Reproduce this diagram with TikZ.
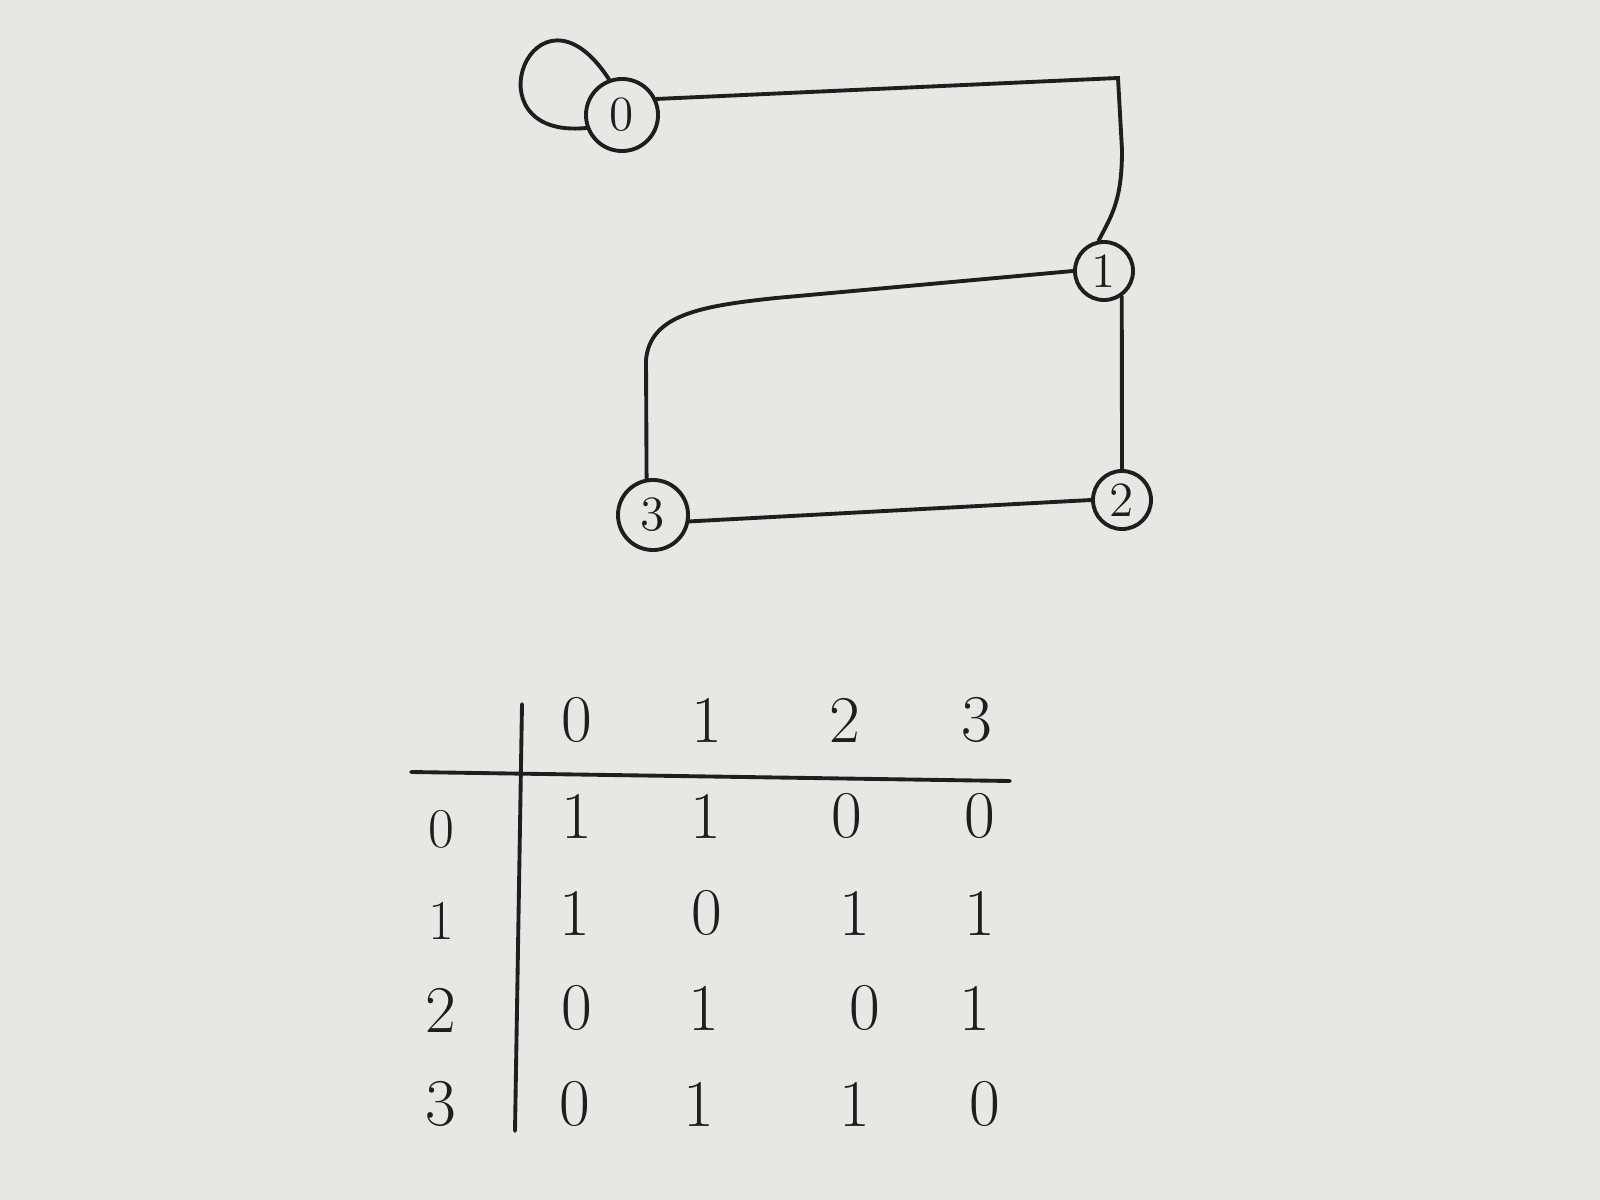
\documentclass[tikz,border=0pt]{standalone}
\definecolor{paper}{HTML}{E8E7E4}
\definecolor{ink}{HTML}{1E1E1E}
\begin{document}
\begin{tikzpicture}[x=0.01cm,y=-0.01cm,
  line width=1.1pt, draw=ink,
  vert/.style={circle,draw=ink,line width=1.1pt,inner sep=0pt,font=\fontsize{14}{16}\selectfont,text=ink},
  cell/.style={font=\fontsize{19}{22}\selectfont,text=ink,inner sep=1pt},
  lbl/.style={font=\fontsize{16}{19}\selectfont,text=ink,inner sep=1pt},
  edge/.style={draw=ink,line width=1.1pt,line cap=round}]
\fill[paper] (0,0) rectangle (1600,1200);
\useasboundingbox (0,0) rectangle (1600,1200);
% vertices
\node[vert,minimum size=0.72cm] (n0) at (622,115) {0};
\node[vert,minimum size=0.58cm] (n1) at (1104,271) {1};
\node[vert,minimum size=0.58cm] (n2) at (1122,500) {2};
\node[vert,minimum size=0.70cm] (n3) at (653,515) {3};
% edges
\draw[edge] (n0.200) .. controls (465,140) and (535,-35) .. (n0.110);
\draw[edge] (n0.25) -- (1118,78) -- (1122,150) .. controls (1122,200) and (1112,215) .. (n1.100);
\draw[edge] (n1.west) -- (776,298) .. controls (700,306) and (650,315) .. (646,360) -- (n3.100);
\draw[edge] (n1.-55) -- (n2.north);
\draw[edge] (n3.-10) -- (n2.west);
% table lines
\coordinate (vt) at (522,704);
\coordinate (vb) at (515,1131);
\coordinate (hl) at (411,772);
\coordinate (hr) at (1010,781);
\draw[edge] (vt) -- (vb);
\draw[edge] (hl) -- (hr);
% header
\node[cell] (h0) at (577,720) {0};
\node[cell] (h1) at (707,720) {1};
\node[cell] (h2) at (845,720) {2};
\node[cell] (h3) at (977,720) {3};
% row labels
\node[lbl] (r0) at (441,829) {0};
\node[lbl] (r1) at (441,921) {1};
\node[cell] (r2) at (441,1010) {2};
\node[cell] (r3) at (441,1104) {3};
% entries
\node[cell] (c00) at (577,816) {1};
\node[cell] (c01) at (706,816) {1};
\node[cell] (c02) at (847,816) {0};
\node[cell] (c03) at (980,816) {0};
\node[cell] (c10) at (575,913) {1};
\node[cell] (c11) at (707,913) {0};
\node[cell] (c12) at (855,913) {1};
\node[cell] (c13) at (980,913) {1};
\node[cell] (c20) at (577,1008) {0};
\node[cell] (c21) at (704,1008) {1};
\node[cell] (c22) at (865,1008) {0};
\node[cell] (c23) at (975,1008) {1};
\node[cell] (c30) at (575,1104) {0};
\node[cell] (c31) at (699,1104) {1};
\node[cell] (c32) at (855,1104) {1};
\node[cell] (c33) at (985,1104) {0};
\end{tikzpicture}
\end{document}
